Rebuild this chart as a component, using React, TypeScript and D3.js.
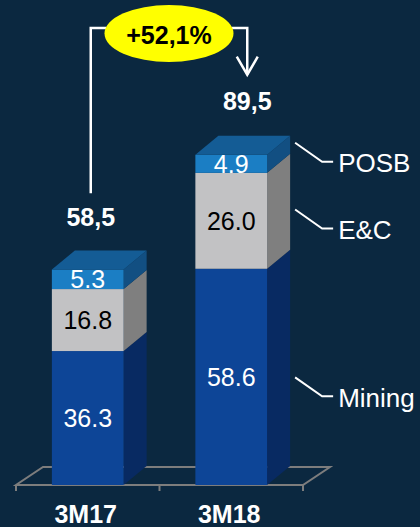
import React from "react";
import * as d3 from "d3";

// ---- data ----
const categories = ["3M17", "3M18"];
const seriesKeys = ["Mining", "E&C", "POSB"];
const miningValues = [36.3, 58.6];
const ecValues = [16.8, 26.0];
const posbValues = [5.3, 4.9];
const totalLabels = ["58,5", "89,5"];
const totalValues = [58.5, 89.5];
const growthLabel = "+52,1%";

// ---- style / layout ----
const W = 420;
const H = 527;
const BG = "#0b2840";
const DX = 23;
const DY = 19;
const FONT = "'Liberation Sans', Arial, Helvetica, sans-serif";
const COLORS: Record<string, { front: string; side: string; top: string; text: string }> = {
  Mining: { front: "#0d4597", side: "#082a62", top: "#0b3a80", text: "#ffffff" },
  "E&C": { front: "#c2c2c4", side: "#7f7f7f", top: "#a5a5a5", text: "#000000" },
  POSB: { front: "#1b7ec4", side: "#124f82", top: "#145c95", text: "#ffffff" },
};
const LEADER_FRAC: Record<string, number> = { Mining: 0.41, "E&C": 0.42, POSB: 0.61 };

export default function App() {
  const rows = categories.map((c, i) => ({
    cat: c,
    Mining: miningValues[i],
    "E&C": ecValues[i],
    POSB: posbValues[i],
  }));
  const stacked = d3.stack<any>().keys(seriesKeys)(rows);

  const x = d3.scaleBand<string>().domain(categories).range([16, 303]).paddingInner(0.5).paddingOuter(0.25);
  const y = d3.scaleLinear().domain([0, 100]).range([485, 116]);
  const bw = x.bandwidth();
  const [fx0, fx1] = x.range();
  const base = y(0);

  const line = d3.line();

  // bracket geometry
  const c0 = (x(categories[0]) as number) + bw / 2;
  const c1 = (x(categories[1]) as number) + bw / 2;
  const leftX = c0 + 3;
  const rightX = c1 + 16;
  const topY = 28;
  const ecx = (leftX + rightX) / 2;
  const ecy = 33.5;
  const erx = 64.5;
  const ery = 28.5;
  const leftBottom = y(totalValues[0]) - 76;
  const rightBottom = y(totalValues[1]) - 80;

  const lastX = (x(categories[categories.length - 1]) as number) + bw + DX + 5;
  const lastIdx = categories.length - 1;

  return (
    <svg
      width={W}
      height={H}
      viewBox={`0 0 ${W} ${H}`}
      style={{ position: "absolute", left: 0, top: 0, display: "block" }}
      fontFamily={FONT}
    >
      <rect x={0} y={0} width={W} height={H} fill={BG} />

      {/* floor */}
      <path
        d={`M${fx0},${base} L${fx1},${base} L${fx1 + DX + 4},${base - DY + 1} L${fx0 + DX + 4},${base - DY + 1} Z`}
        fill="none"
        stroke="#7d7d7d"
        strokeWidth={2}
      />
      {[fx0, (fx0 + fx1) / 2, fx1].map((tx, i) => (
        <line key={i} x1={tx} x2={tx} y1={base} y2={base + 6} stroke="#7d7d7d" strokeWidth={2} />
      ))}

      {/* bars */}
      {categories.map((cat, ci) => {
        const x0 = x(cat) as number;
        return (
          <g key={cat}>
            {stacked.map((s, si) => {
              const key = s.key;
              const d = s[ci];
              const yTop = y(d[1]);
              const yBot = y(d[0]);
              const col = COLORS[key];
              const side: [number, number][] = [
                [x0 + bw, yTop],
                [x0 + bw + DX, yTop - DY],
                [x0 + bw + DX, yBot - DY],
                [x0 + bw, yBot],
              ];
              const isTop = si === stacked.length - 1;
              const top: [number, number][] = [
                [x0, yTop],
                [x0 + DX, yTop - DY],
                [x0 + bw + DX, yTop - DY],
                [x0 + bw, yTop],
              ];
              return (
                <g key={key}>
                  <path d={line(side) + "Z"} fill={col.side} />
                  <rect x={x0} y={yTop} width={bw} height={yBot - yTop} fill={col.front} />
                  {isTop && <path d={line(top) + "Z"} fill={col.top} />}
                  <text
                    x={x0 + bw / 2}
                    y={(yTop + yBot) / 2}
                    dy="0.35em"
                    textAnchor="middle"
                    fontSize={25}
                    fill={col.text}
                  >
                    {(d[1] - d[0]).toFixed(1)}
                  </text>
                </g>
              );
            })}
          </g>
        );
      })}

      {/* totals */}
      <text x={leftX} y={y(totalValues[0]) - 43} textAnchor="middle" fontSize={25} fontWeight="bold" fill="#ffffff">
        {totalLabels[0]}
      </text>
      <text x={rightX} y={y(totalValues[1]) - 45} textAnchor="middle" fontSize={25} fontWeight="bold" fill="#ffffff">
        {totalLabels[1]}
      </text>

      {/* growth bracket */}
      <path
        d={`M${leftX},${leftBottom} V${topY} H${ecx - erx + 2}`}
        fill="none"
        stroke="#ffffff"
        strokeWidth={2.5}
      />
      <path
        d={`M${ecx + erx - 2},${topY} H${rightX} V${rightBottom}`}
        fill="none"
        stroke="#ffffff"
        strokeWidth={2.5}
      />
      <path
        d={`M${rightX - 10.5},${rightBottom - 18} L${rightX},${rightBottom} L${rightX + 10.5},${rightBottom - 18}`}
        fill="none"
        stroke="#ffffff"
        strokeWidth={2.5}
      />
      <ellipse cx={ecx} cy={ecy} rx={erx} ry={ery} fill="#ffff00" />
      <text x={ecx} y={ecy} dy="0.4em" textAnchor="middle" fontSize={25} fontWeight="bold" fill="#000000">
        {growthLabel}
      </text>

      {/* legend leaders */}
      {stacked.map((s) => {
        const d = s[lastIdx];
        const frac = LEADER_FRAC[s.key];
        const sy = y(d[0] + (d[1] - d[0]) * frac) - DY;
        const sx = lastX;
        const ex = sx + 27;
        const ey = sy + 19;
        return (
          <g key={s.key}>
            <path d={`M${sx},${sy} L${ex},${ey} H${ex + 11}`} fill="none" stroke="#ffffff" strokeWidth={2} />
            <text x={ex + 16} y={ey} dy="0.4em" fontSize={26} fill="#ffffff">
              {s.key}
            </text>
          </g>
        );
      })}

      {/* category labels */}
      {categories.map((c) => (
        <text
          key={c}
          x={(x(c) as number) + bw / 2 - 2}
          y={523}
          textAnchor="middle"
          fontSize={25}
          fontWeight="bold"
          fill="#ffffff"
        >
          {c}
        </text>
      ))}
    </svg>
  );
}
